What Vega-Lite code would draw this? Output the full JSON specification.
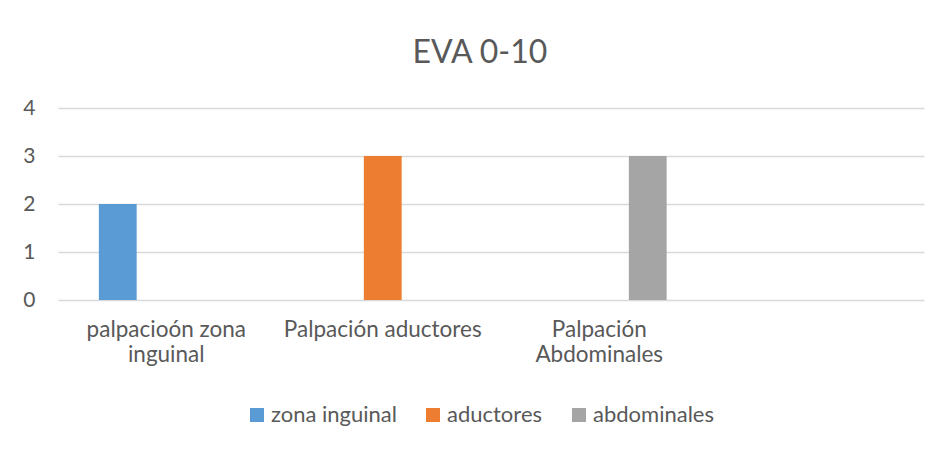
{
  "$schema": "https://vega.github.io/schema/vega-lite/v6.json",
  "autosize": {"type": "none"},
  "width": 866,
  "height": 192,
  "padding": {"left": 58, "top": 108, "right": 16, "bottom": 152},
  "background": "white",
  "title": {
    "text": "EVA 0-10",
    "fontSize": 32,
    "font": "Lato",
    "fontWeight": "normal",
    "color": "#595959",
    "anchor": "middle",
    "frame": "group",
    "dx": -11,
    "offset": 27
  },
  "data": {
    "values": [
      {"categoria": "palpacioón zona inguinal", "serie": "zona inguinal", "valor": 2},
      {"categoria": "Palpación aductores", "serie": "aductores", "valor": 3},
      {"categoria": "Palpación Abdominales", "serie": "abdominales", "valor": 3}
    ]
  },
  "mark": {"type": "bar"},
  "encoding": {
    "x": {
      "field": "categoria",
      "type": "nominal",
      "sort": null,
      "scale": {
        "domain": ["palpacioón zona inguinal", "Palpación aductores", "Palpación Abdominales", " "],
        "paddingInner": 0.328,
        "paddingOuter": 0.164
      },
      "axis": {
        "title": null,
        "labelAngle": 0,
        "domain": false,
        "ticks": false,
        "labelPadding": 18,
        "labelFontSize": 22.5,
        "labelFont": "Lato",
        "labelColor": "#595959",
        "labelLineHeight": 25,
        "labelLimit": 400,
        "labelOverlap": false,
        "labelBaseline": "top",
        "labelExpr": "datum.value == 'palpacioón zona inguinal' ? ['palpacioón zona', 'inguinal'] : datum.value == 'Palpación Abdominales' ? ['Palpación', 'Abdominales'] : datum.value"
      }
    },
    "xOffset": {
      "field": "serie",
      "type": "nominal",
      "scale": {
        "domain": ["zona inguinal", "aductores", "abdominales"],
        "paddingInner": 0.22,
        "paddingOuter": 0.11
      }
    },
    "y": {
      "field": "valor",
      "type": "quantitative",
      "scale": {"domain": [0, 4], "nice": false},
      "axis": {
        "title": null,
        "values": [0, 1, 2, 3, 4],
        "domain": false,
        "ticks": false,
        "labelPadding": 23,
        "labelFontSize": 21,
        "labelFont": "Lato",
        "labelColor": "#595959",
        "gridColor": "#d9d9d9",
        "gridWidth": 1.3
      }
    },
    "color": {
      "field": "serie",
      "type": "nominal",
      "scale": {
        "domain": ["zona inguinal", "aductores", "abdominales"],
        "range": ["#5B9BD5", "#ED7D31", "#A5A5A5"]
      },
      "legend": {
        "title": null,
        "orient": "none",
        "direction": "horizontal",
        "legendX": 188,
        "legendY": 296,
        "symbolType": "square",
        "symbolSize": 196,
        "symbolStrokeWidth": 0,
        "labelFontSize": 22,
        "labelFont": "Lato",
        "labelColor": "#595959",
        "labelOffset": 3,
        "columnPadding": 25
      }
    }
  },
  "config": {
    "view": {"stroke": null},
    "font": "Lato"
  }
}
